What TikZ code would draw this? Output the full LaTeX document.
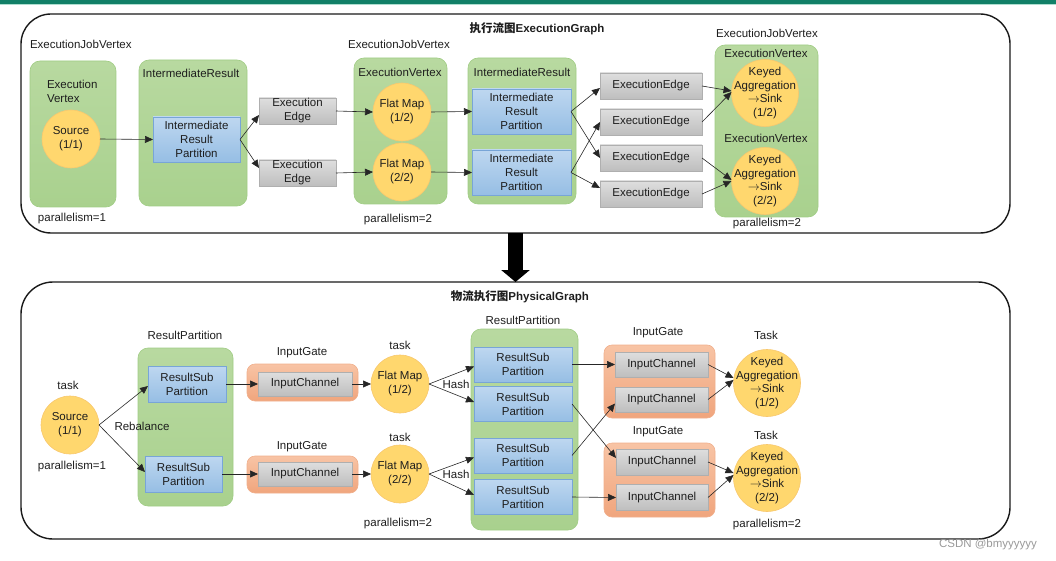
\documentclass[tikz,border=0pt]{standalone}
\usepackage{fontspec}
\setmainfont{Liberation Sans}
\newfontfamily\cjk{Noto Sans CJK SC}
\usetikzlibrary{arrows.meta}
\definecolor{barteal}{RGB}{18,128,104}
\definecolor{barlight}{RGB}{175,222,208}
\definecolor{gfill}{RGB}{169,209,142}
\definecolor{gtop}{RGB}{184,217,160}
\definecolor{gdraw}{RGB}{160,204,132}
\definecolor{btop}{RGB}{190,215,240}
\definecolor{bbot}{RGB}{150,190,228}
\definecolor{bdraw}{RGB}{120,165,215}
\definecolor{eytop}{RGB}{222,222,222}
\definecolor{eybot}{RGB}{190,190,190}
\definecolor{eydraw}{RGB}{175,175,175}
\definecolor{otop}{RGB}{248,196,165}
\definecolor{obot}{RGB}{240,165,125}
\definecolor{odraw}{RGB}{240,175,140}
\definecolor{yfill}{RGB}{255,215,110}
\definecolor{ydraw}{RGB}{248,200,110}
\definecolor{txt}{RGB}{30,30,30}
\newcommand{\sinkarrow}{$\rightarrow$}
\tikzset{
  every node/.style={font=\fontsize{11.5}{14}\selectfont, text=txt, inner sep=0pt, outer sep=0pt},
  panel/.style={draw=black!90, line width=1.4pt, rounded corners=30pt},
  gbox/.style={top color=gtop, bottom color=gfill, draw=gdraw, line width=0.6pt, rounded corners=10pt},
  bbox/.style={top color=btop, bottom color=bbot, draw=bdraw, line width=0.6pt, align=center},
  ebox/.style={top color=eytop, bottom color=eybot, draw=eydraw, line width=0.6pt, align=center},
  obox/.style={top color=otop, bottom color=obot, draw=odraw, line width=0.6pt, rounded corners=8pt},
  circ/.style={circle, fill=yfill, draw=ydraw, line width=0.6pt, align=center, minimum size=58pt, inner sep=-20pt},
  bigcirc/.style={circ, minimum size=67pt, font=\fontsize{11.5}{13.5}\selectfont},
  arr/.style={-{Triangle[length=8pt,width=7pt]}, line width=0.6pt, black!85},
}
\begin{document}
\begin{tikzpicture}[x=1pt,y=-1pt]
\useasboundingbox (0,0) rectangle (1056,561);
% top bar
\fill[barteal] (0,0) rectangle (1056,3.6);
\fill[barlight] (0,3.6) rectangle (1056,5.2);

% ================= TOP PANEL =================
\node[panel, minimum width=989pt, minimum height=219pt] (topPanel) at (515.5,123.5) {};
\node[font=\fontsize{11.5}{14}\selectfont\bfseries] (titleT) at (537,29) {{\cjk\bfseries 执行流图}ExecutionGraph};

\node[anchor=west] (ljv1) at (30,44) {ExecutionJobVertex};
\node[gbox, minimum width=86pt, minimum height=146pt] (jv1) at (73,134) {};
\node[anchor=west, align=left] (lev1) at (47,91) {Execution\\Vertex};
\node[circ] (src) at (71,139) {Source\\(1/1)};
\node (par1) at (72,219) {parallelism=1};

\node[gbox, minimum width=108pt, minimum height=146pt] (ir1) at (193,133) {};
\node (lir1) at (191,73) {IntermediateResult};
\node[bbox, minimum width=87pt, minimum height=45pt] (irp0) at (196.5,139.5) {Intermediate\\Result\\Partition};

\node[ebox, minimum width=77pt, minimum height=26pt] (ee1) at (297.5,111) {Execution\\Edge};
\node[ebox, minimum width=77pt, minimum height=26pt] (ee2) at (297.5,173) {Execution\\Edge};

\node (ljv2) at (399,44) {ExecutionJobVertex};
\node[gbox, minimum width=93pt, minimum height=146pt] (jv2) at (400.5,131) {};
\node (lev2) at (400,72) {ExecutionVertex};
\node[circ] (fm1) at (402,112) {Flat Map\\(1/2)};
\node[circ] (fm2) at (402,172) {Flat Map\\(2/2)};
\node (par2) at (398,220) {parallelism=2};

\node[gbox, minimum width=108pt, minimum height=146pt] (ir2) at (522,131) {};
\node (lir2) at (522,72) {IntermediateResult};
\node[bbox, minimum width=99pt, minimum height=45pt] (irp1) at (521.5,111.5) {Intermediate\\Result\\Partition};
\node[bbox, minimum width=99pt, minimum height=45pt] (irp2) at (521.5,172.5) {Intermediate\\Result\\Partition};

\node[ebox, minimum width=102pt, minimum height=26pt] (eea) at (651,86) {ExecutionEdge};
\node[ebox, minimum width=102pt, minimum height=26pt] (eeb) at (651,122) {ExecutionEdge};
\node[ebox, minimum width=102pt, minimum height=26pt] (eec) at (651,158) {ExecutionEdge};
\node[ebox, minimum width=102pt, minimum height=26pt] (eed) at (651,194) {ExecutionEdge};

\node (ljv3) at (767,33) {ExecutionJobVertex};
\node[gbox, minimum width=103pt, minimum height=172pt] (jv3) at (766.5,131) {};
\node (lev3a) at (766,53) {ExecutionVertex};
\node (lev3b) at (766,138) {ExecutionVertex};
\node[bigcirc] (ka1) at (765,93) {Keyed\\Aggregation\\\sinkarrow Sink\\(1/2)};
\node[bigcirc] (ka2) at (765,181) {Keyed\\Aggregation\\\sinkarrow Sink\\(2/2)};
\node (par3) at (767,224) {parallelism=2};

% top arrows
\draw[arr] (src.east) -- (irp0.west);
\draw[arr] (irp0.east) -- ([yshift=-4pt]ee1.west);
\draw[arr] (irp0.east) -- ([yshift=5pt]ee2.west);
\draw[arr] (ee1.east) -- (fm1.west);
\draw[arr] (ee2.east) -- (fm2.west);
\draw[arr] (fm1.east) -- (irp1.west);
\draw[arr] (fm2.east) -- (irp2.west);
\draw[arr] (irp1.east) -- ([yshift=-2pt]eea.west);
\draw[arr] (irp1.east) -- (eec.west);
\draw[arr] (irp2.east) -- (eeb.west);
\draw[arr] (irp2.east) -- ([yshift=6pt]eed.west);
\draw[arr] (eea.east) -- ([yshift=2pt]ka1.west);
\draw[arr] (eeb.east) -- ([yshift=1pt]ka1.west);
\draw[arr] (eec.east) -- ([yshift=1pt]ka2.west);
\draw[arr] (eed.east) -- (ka2.west);

% ================= BOTTOM PANEL =================
\node[panel, minimum width=989pt, minimum height=257pt, rounded corners=32pt] (botPanel) at (515.5,410.5) {};
\node[font=\fontsize{11.5}{14}\selectfont\bfseries] (titleB) at (520,297) {{\cjk\bfseries 物流执行图}PhysicalGraph};

% big arrow
\draw[line width=15pt, black, -{Triangle[length=12pt 0, width=28pt 0]}] (topPanel.south) -- (botPanel.north);

\node (ltask1) at (68,385) {task};
\node[circ] (src2) at (70,425) {Source\\(1/1)};
\node (par4) at (72,467) {parallelism=1};

\node (lrp1) at (185,335) {ResultPartition};
\node[gbox, minimum width=95pt, minimum height=158pt] (rp1) at (185.5,427) {};
\node[bbox, minimum width=78pt, minimum height=36pt] (rsp1) at (187,384) {ResultSub\\Partition};
\node[bbox, minimum width=77pt, minimum height=36pt] (rsp2) at (183.5,474) {ResultSub\\Partition};
\node (lreb) at (142,426) {Rebalance};

\node (lig1) at (302,353) {InputGate};
\node[obox, minimum width=111pt, minimum height=37pt] (ig1) at (302.5,382.5) {};
\node[ebox, minimum width=94pt, minimum height=24pt] (ic1) at (305,384) {InputChannel};
\node (lig2) at (302,447) {InputGate};
\node[obox, minimum width=111pt, minimum height=37pt] (ig2) at (302.5,474.5) {};
\node[ebox, minimum width=94pt, minimum height=24pt] (ic2) at (305,474) {InputChannel};

\node (ltask2) at (400,345) {task};
\node[circ] (fm3) at (400,384) {Flat Map\\(1/2)};
\node (ltask3) at (400,437) {task};
\node[circ] (fm4) at (400,474) {Flat Map\\(2/2)};
\node (par5) at (398,524) {parallelism=2};
\node (lhash1) at (456,384) {Hash};
\node (lhash2) at (456,474) {Hash};

\node (lrp2) at (523,320) {ResultPartition};
\node[gbox, minimum width=107pt, minimum height=201pt] (rp2) at (524.5,429.5) {};
\node[bbox, minimum width=98pt, minimum height=35pt] (rspa) at (523,364.5) {ResultSub\\Partition};
\node[bbox, minimum width=98pt, minimum height=35pt] (rspb) at (523,404) {ResultSub\\Partition};
\node[bbox, minimum width=98pt, minimum height=35pt] (rspc) at (523,455.5) {ResultSub\\Partition};
\node[bbox, minimum width=98pt, minimum height=35pt] (rspd) at (523,497) {ResultSub\\Partition};

\node (lig3) at (658,333) {InputGate};
\node[obox, minimum width=111pt, minimum height=73pt] (ig3) at (659.5,381.5) {};
\node[ebox, minimum width=93pt, minimum height=25pt] (ic3a) at (661.5,364.5) {InputChannel};
\node[ebox, minimum width=93pt, minimum height=25pt] (ic3b) at (661.5,399.5) {InputChannel};
\node (lig4) at (658,432) {InputGate};
\node[obox, minimum width=111pt, minimum height=74pt] (ig4) at (659.5,480) {};
\node[ebox, minimum width=92pt, minimum height=26pt] (ic4a) at (662,462) {InputChannel};
\node[ebox, minimum width=92pt, minimum height=26pt] (ic4b) at (662,497.5) {InputChannel};

\node (ltask4) at (766,335) {Task};
\node[bigcirc] (ka3) at (767,383) {Keyed\\Aggregation\\\sinkarrow Sink\\(1/2)};
\node (ltask5) at (766,435) {Task};
\node[bigcirc] (ka4) at (767,478) {Keyed\\Aggregation\\\sinkarrow Sink\\(2/2)};
\node (par6) at (767,525) {parallelism=2};

% bottom arrows
\draw[arr] (src2.east) -- ([yshift=-2pt]rsp1.west);
\draw[arr] (src2.east) -- ([yshift=2pt]rsp2.west);
\draw[arr] (rsp1.east) -- (ic1.west);
\draw[arr] (rsp2.east) -- (ic2.west);
\draw[arr] (ic1.east) -- (fm3.west);
\draw[arr] (ic2.east) -- (fm4.west);
\draw[arr] (fm3.east) -- ([yshift=-2pt]rspa.west);
\draw[arr] (fm3.east) -- ([yshift=2pt]rspb.west);
\draw[arr] (fm4.east) -- ([yshift=-2pt]rspc.west);
\draw[arr] (fm4.east) -- ([yshift=2pt]rspd.west);
\draw[arr] (rspa.east) -- (ic3a.west);
\draw[arr] (rspb.east) -- ([yshift=4pt]ic4a.west);
\draw[arr] (rspc.east) -- ([yshift=-4pt]ic3b.west);
\draw[arr] (rspd.east) -- (ic4b.west);
\draw[arr] (ic3a.east) -- ([yshift=5pt]ka3.west);
\draw[arr] (ic3b.east) -- ([yshift=3pt]ka3.west);
\draw[arr] (ic4a.east) -- ([yshift=5pt]ka4.west);
\draw[arr] (ic4b.east) -- ([yshift=3pt]ka4.west);

% watermark
\node[text=black!40] (wm) at (988,545) {CSDN @bmyyyyyy};
\end{tikzpicture}
\end{document}
